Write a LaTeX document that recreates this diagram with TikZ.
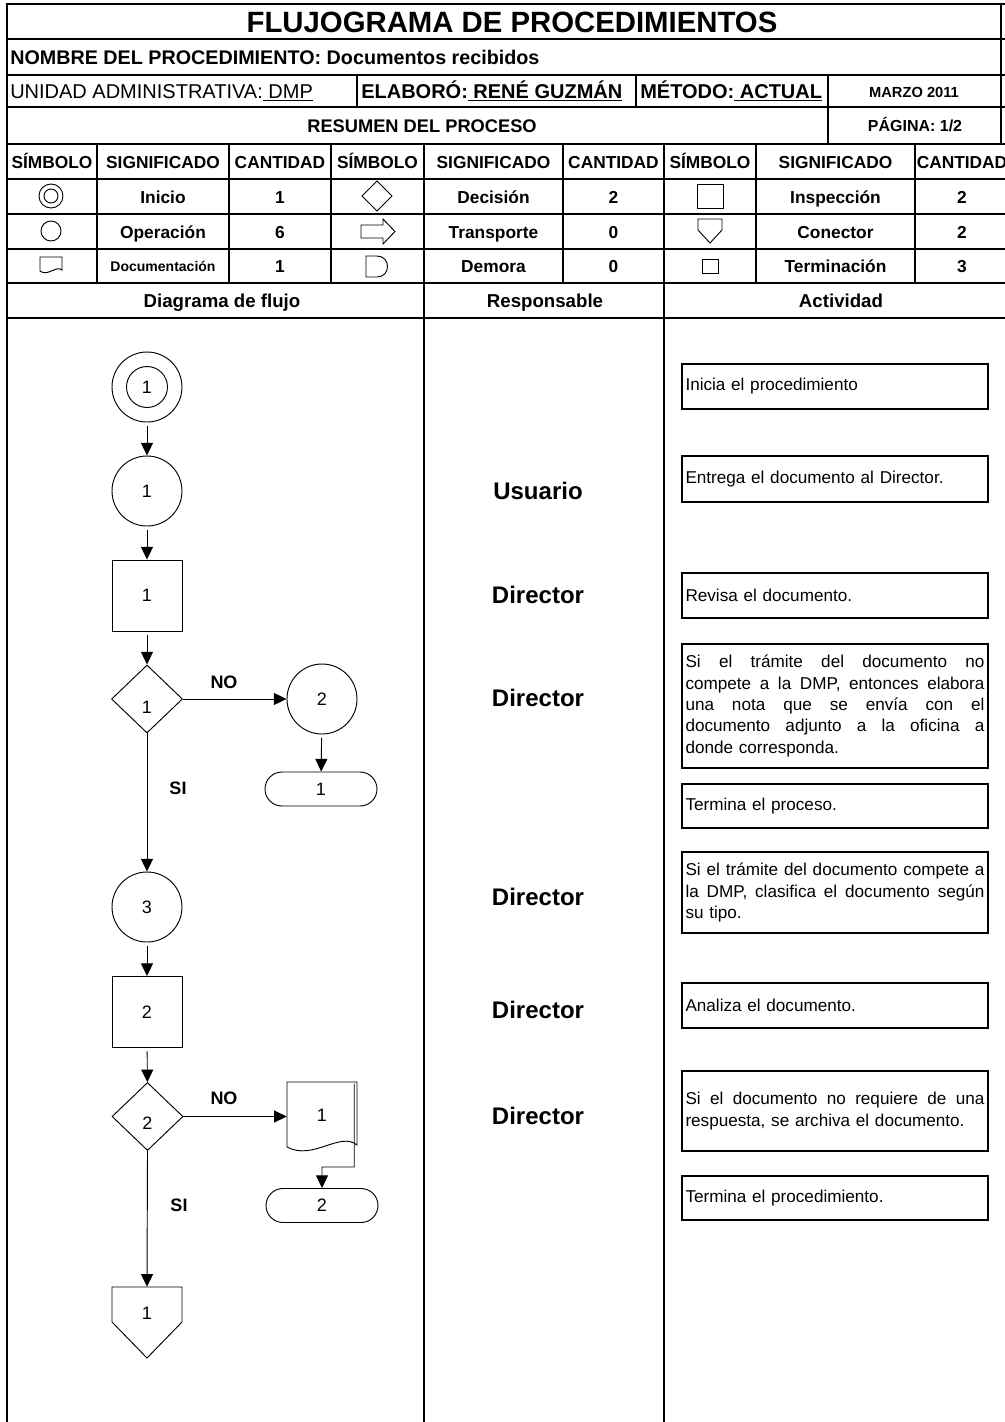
\documentclass[tikz,border=0pt]{standalone}
\usepackage{fontspec}
\setmainfont{Liberation Sans}
\usetikzlibrary{arrows.meta,shapes.geometric,shapes.misc,calc}
\newcommand{\jline}[1]{\leavevmode\hbox to 224.25pt{\spaceskip=0.278em plus 3em minus 0.1em\relax #1}\par}
\begin{document}
\begin{tikzpicture}[x=0.75pt,y=-0.75pt,
  tline/.style={line width=2pt},
  fl/.style={line width=0.7pt},
  arr/.style={fl,-{Triangle[length=9.5pt,width=9pt]},shorten <=2.5pt},
  arrn/.style={fl,-{Triangle[length=9.5pt,width=9pt]}},
  num/.style={font=\fontsize{13.5}{15}\selectfont,inner sep=0pt},
  circ/.style={circle,draw,fl,minimum size=52.5pt,num},
  insp/.style={rectangle,draw,fl,minimum width=52.5pt,minimum height=53.25pt,num},
  dec/.style={diamond,draw,fl,minimum width=53.25pt,minimum height=51pt,num},
  term/.style={rounded rectangle,draw,fl,minimum width=84pt,minimum height=25.5pt,num},
  yn/.style={font=\bfseries\fontsize{13.5}{15}\selectfont,inner sep=0pt},
  resp/.style={font=\bfseries\fontsize{18}{20}\selectfont,inner sep=0pt},
  act/.style={rectangle,draw,line width=0.9pt,text width=224.25pt,inner xsep=2.625pt,inner ysep=0pt,align=left,font=\fontsize{12.85}{16}\selectfont},
  th/.style={font=\bfseries\fontsize{13}{14}\selectfont,inner sep=0pt,text height=9.3pt,text depth=0pt},
  tsm/.style={font=\bfseries\fontsize{10.5}{12}\selectfont,inner sep=0pt,text height=7.5pt,text depth=0pt},
  big/.style={font=\bfseries\fontsize{14}{16}\selectfont,inner sep=0pt,text height=10pt,text depth=0pt},
  row/.style={font=\fontsize{15}{16}\selectfont,inner sep=0pt,anchor=west,text height=10.7pt,text depth=0pt},
  sm/.style={font=\bfseries\fontsize{11}{13}\selectfont,inner sep=0pt,text height=7.9pt,text depth=0pt}
]
\useasboundingbox (0,0) rectangle (1005,1422);
\fill[white] (0,0) rectangle (1005,1422);

% ---------- table lines ----------
\foreach \yy in {4,39,75,107,144,179,214,249,283,318}
  \draw[tline] (7,\yy) -- (1005,\yy);
\draw[tline] (1001,4) -- (1001,144);
\draw[tline] (7,3) -- (7,1422);
\draw[tline] (357,75) -- (357,107);
\draw[tline] (636,75) -- (636,107);
\draw[tline] (828,75) -- (828,144);
\foreach \xx in {97,229,331,563,756,915}
  \draw[tline] (\xx,144) -- (\xx,283);
\draw[tline] (424,144) -- (424,1422);
\draw[tline] (664,144) -- (664,1422);

% ---------- header texts ----------
\node[font=\bfseries\fontsize{22}{24}\selectfont,inner sep=0pt] (title) at (512,22) {FLUJOGRAMA DE PROCEDIMIENTOS};
\node[row,font=\bfseries\fontsize{14.8}{16}\selectfont] (nombre) at (10,57) {NOMBRE DEL PROCEDIMIENTO: Documentos recibidos};
\node[row] (unidad) at (10,91) {UNIDAD ADMINISTRATIVA:\underline{\ DMP}};
\node[row,font=\bfseries\fontsize{15}{16}\selectfont] (elab) at (361,91) {ELABORÓ:\underline{\ RENÉ GUZMÁN}};
\node[row,font=\bfseries\fontsize{15}{16}\selectfont] (metodo) at (640,91) {MÉTODO:\underline{\ ACTUAL}};
\node[sm] (fecha) at (914,92) {MARZO 2011};
\node[font=\bfseries\fontsize{13.7}{15}\selectfont,inner sep=0pt,text height=9.8pt,text depth=0pt] (resumen) at (422,126) {RESUMEN DEL PROCESO};
\node[sm,font=\bfseries\fontsize{12}{13}\selectfont,text height=8.6pt] (pagina) at (915,126) {PÁGINA: 1/2};

% header row
\node[th] (h1) at (52,162) {SÍMBOLO};
\node[th] (h2) at (163,162) {SIGNIFICADO};
\node[th] (h3) at (280,162) {CANTIDAD};
\node[th] (h4) at (377.5,162) {SÍMBOLO};
\node[th] (h5) at (493.5,162) {SIGNIFICADO};
\node[th] (h6) at (613.5,162) {CANTIDAD};
\node[th] (h7) at (710,162) {SÍMBOLO};
\node[th] (h8) at (835.5,162) {SIGNIFICADO};
\node[th] (h9) at (962,162) {CANTIDAD};

% body rows
\node[th] (t11) at (163,197) {Inicio};
\node[th] (t12) at (280,197) {1};
\node[th] (t13) at (493.5,197) {Decisión};
\node[th] (t14) at (613.5,197) {2};
\node[th] (t15) at (835.5,197) {Inspección};
\node[th] (t16) at (962,197) {2};
\node[th] (t21) at (163,232) {Operación};
\node[th] (t22) at (280,232) {6};
\node[th] (t23) at (493.5,232) {Transporte};
\node[th] (t24) at (613.5,232) {0};
\node[th] (t25) at (835.5,232) {Conector};
\node[th] (t26) at (962,232) {2};
\node[tsm] (t31) at (163,266.5) {Documentación};
\node[th] (t32) at (280,266.5) {1};
\node[th] (t33) at (493.5,266.5) {Demora};
\node[th] (t34) at (613.5,266.5) {0};
\node[th] (t35) at (835.5,266.5) {Terminación};
\node[th] (t36) at (962,266.5) {3};

\node[big] (c1) at (222,300.5) {Diagrama de flujo};
\node[big] (c2) at (545,300.5) {Responsable};
\node[big] (c3) at (841,300.5) {Actividad};

% ---------- table symbols ----------
\draw[fl] (51,196) circle[radius=12];
\draw[fl] (51,196) circle[radius=7];
\draw[fl] (51,231) circle[radius=10];
\draw[fl] (40,257) -- (62,257) -- (62,270) .. controls (56,265) and (48,277) .. (40,271) -- cycle;
\draw[fl] (377,181) -- (392,196) -- (377,211) -- (362,196) -- cycle;
\draw[fl] (361,225) -- (383,225) -- (383,219) -- (395,231.5) -- (383,244) -- (383,238) -- (361,238) -- cycle;
\draw[fl] (366,256) -- (377,256) .. controls (391,256) and (391,277) .. (377,277) -- (366,277) -- cycle;
\draw[fl] (697,184) rectangle (723,208);
\draw[fl] (698,219) -- (722,219) -- (722,230) -- (710,243) -- (698,230) -- cycle;
\draw[fl] (702,259) rectangle (718,273);

% ---------- flow diagram ----------
\node[circ] (start) at (147,387) {};
\node[circle,draw,fl,minimum size=30.75pt,num] (startin) at (start) {1};
\node[circ] (op1) at (147,491) {1};
\node[insp] (insp1) at (147,595.5) {1};
\node[dec] (dec1) at (147,699) {};
\node[num] (dec1t) at (147,707) {1};
\node[circ] (op2) at (322,699) {2};
\node[term] (term1) at (321,789) {1};
\node[circ] (op3) at (147,907) {3};
\node[insp] (insp2) at (147,1012) {2};
\node[dec] (dec2) at (147.5,1116.5) {};
\node[num] (dec2t) at (147.5,1123) {2};
\node[minimum width=52.5pt,minimum height=47.25pt,inner sep=0pt] (doc) at (322,1113.5) {};
\node[num] (doct) at (322,1115) {1};
\draw[fl] (287,1082) -- (357,1082) -- (357,1145) .. controls (340,1131) and (313,1161) .. (287,1147) -- cycle;
\node[term] (term2) at (322,1205.5) {2};
\node[minimum width=52.5pt,minimum height=26.25pt,inner sep=0pt] (conn) at (147,1304.5) {};
\draw[fl] (112,1287) -- (182,1287) -- (182,1322) -- (147,1358) -- (112,1322) -- cycle;
\node[num] (connt) at (147,1313) {1};
\coordinate (docturn) at (322,1167);

\draw[arr] (start) -- (op1);
\draw[arr] (op1) -- (insp1);
\draw[arr] (insp1) -- (dec1);
\draw[arrn] (dec1.east) -- (op2);
\node[yn] (no1) at (224,682) {NO};
\draw[arr] (op2) -- (term1);
\draw[arrn] (dec1.south) -- (op3);
\node[yn] (si1) at (178,788) {SI};
\draw[arr] (op3) -- (insp2);
\draw[arr] (insp2) -- (dec2);
\draw[arrn] (dec2.east) -- (dec2.east -| doc.west);
\node[yn] (no2) at (224,1098) {NO};
\draw[arrn] ([xshift=-2.25pt,yshift=-1.5pt]doc.north east) |- (docturn) -- (term2);
\draw[arrn] (dec2.south) -- (conn.north);
\node[yn] (si2) at (179,1205) {SI};

% ---------- responsables ----------
\node[resp] (r1) at (538,491) {Usuario};
\node[resp] (r2) at (538,595) {Director};
\node[resp] (r3) at (538,698) {Director};
\node[resp] (r4) at (538,897) {Director};
\node[resp] (r5) at (538,1010) {Director};
\node[resp] (r6) at (538,1116) {Director};

% ---------- actividades ----------
\node[act,minimum height=33.75pt] (a1) at (835,386.5) {Inicia el procedimiento};
\node[act,minimum height=34.5pt] (a2) at (835,479) {Entrega el documento al Director.};
\node[act,minimum height=33.75pt] (a3) at (835,595.5) {Revisa el documento.};
\node[act,minimum height=93pt] (a4) at (835,706) {\jline{Si el trámite del documento no}\jline{compete a la DMP, entonces elabora}\jline{una nota que se envía con el}\jline{documento adjunto a la oficina a}donde corresponda.};
\node[act,minimum height=33pt] (a5) at (835,806) {Termina el proceso.};
\node[act,minimum height=60.75pt] (a6) at (835,892.5) {\jline{Si el trámite del documento compete a}\jline{la DMP, clasifica el documento según}su tipo.};
\node[act,minimum height=33.75pt] (a7) at (835,1005.5) {Analiza el documento.};
\node[act,minimum height=60pt] (a8) at (835,1111) {\jline{Si el documento no requiere de una}respuesta, se archiva el documento.};
\node[act,minimum height=33pt] (a9) at (835,1198) {Termina el procedimiento.};
\end{tikzpicture}
\end{document}
